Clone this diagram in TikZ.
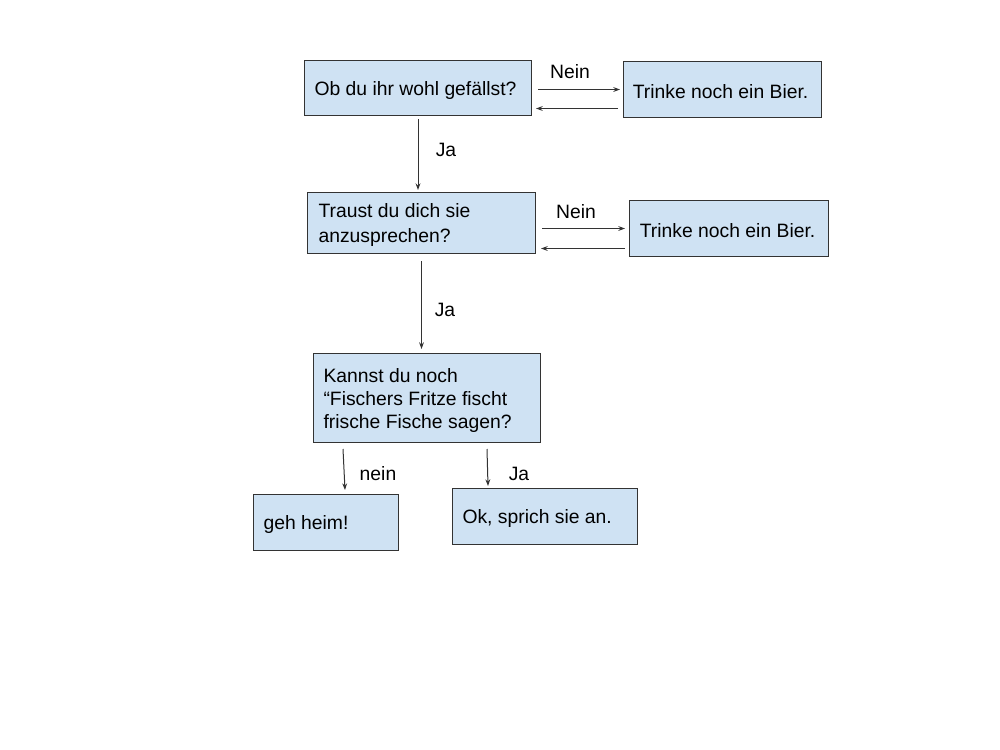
\documentclass[tikz,border=0pt]{standalone}
\usepackage{fontspec}
\setmainfont{Liberation Sans}
\usetikzlibrary{arrows.meta,calc}
\definecolor{boxblue}{HTML}{CFE2F3}
\definecolor{linegray}{HTML}{333333}
\tikzset{
  fcbox/.style={draw=linegray, fill=boxblue, line width=0.75pt, rectangle, anchor=north west,
    align=flush left, inner ysep=0pt, font=\fontsize{14.5pt}{17.25pt}\selectfont,
    execute at begin node={\rule{0pt}{14pt}}},
  conn/.style={draw=linegray, line width=0.75pt, -{Stealth[length=5pt,width=3.6pt]}},
  lbl/.style={font=\fontsize{14.5pt}{17.25pt}\selectfont, inner sep=0pt}
}
\begin{document}
\begin{tikzpicture}[x=0.75pt,y=-0.75pt]
\useasboundingbox (0,0) rectangle (1000,750);
% boxes
\node[fcbox, inner xsep=7.5pt, minimum width=170.25pt, minimum height=41.25pt, text width=155.25pt] (B1) at (304,60) {Ob du ihr wohl gefällst?};
\node[fcbox, inner xsep=7pt, minimum width=148.5pt, minimum height=42pt, text width=134.5pt] (T1) at (623,61) {Trinke noch ein Bier.};
\node[fcbox, inner xsep=8.25pt, minimum width=171pt, minimum height=45.75pt, text width=154.5pt, font=\fontsize{14.5pt}{18.75pt}\selectfont] (B2) at (307,192) {Traust du dich sie\\anzusprechen?};
\node[fcbox, inner xsep=7.75pt, minimum width=149.25pt, minimum height=42pt, text width=133.75pt] (T2) at (629,200) {Trinke noch ein Bier.};
\node[fcbox, inner xsep=7.5pt, minimum width=170.25pt, minimum height=66.75pt, text width=155.25pt] (B3) at (313,353) {Kannst du noch\\“Fischers Fritze fischt\\frische Fische sagen?};
\node[fcbox, inner xsep=7.5pt, minimum width=108.75pt, minimum height=42pt, text width=93.75pt] (G) at (253,494) {geh heim!};
\node[fcbox, inner xsep=7.5pt, minimum width=138.75pt, minimum height=42pt, text width=123.75pt] (O) at (452,488) {Ok, sprich sie an.};
% connectors
\draw[conn, shorten <=4.5pt, shorten >=2.25pt] (B1.east |- T1.west) -- (T1.west);
\draw[conn, shorten <=3.75pt, shorten >=3pt] ([yshift=-14.25pt]T1.west) -- ([yshift=-14.25pt]T1.west -| B1.east);
\draw[conn, shorten <=2.25pt, shorten >=1.5pt] (B1.south) -- (B1.south |- B2.north);
\draw[conn, shorten <=4.5pt, shorten >=3pt] (T2.west -| B2.east) -- (T2.west);
\draw[conn, shorten <=3pt, shorten >=3.75pt] ([yshift=-15pt]T2.west) -- ([yshift=-15pt]T2.west -| B2.east);
\draw[conn, shorten <=5.25pt, shorten >=3pt] (B2.south) -- (B2.south |- B3.north);
\draw[conn] ([shift={(30,6)}]B3.south west) -- ([shift={(92,-4)}]G.north west);
\draw[conn] ([shift={(174,6)}]B3.south west) -- ([shift={(36,-2)}]O.north west);
% labels
\node[lbl] (l1) at (570,72) {Nein};
\node[lbl] (l2) at (446,150) {Ja};
\node[lbl] (l3) at (576,212) {Nein};
\node[lbl] (l4) at (445,310) {Ja};
\node[lbl] (l5) at (378,474) {nein};
\node[lbl] (l6) at (519,474) {Ja};
\end{tikzpicture}
\end{document}
